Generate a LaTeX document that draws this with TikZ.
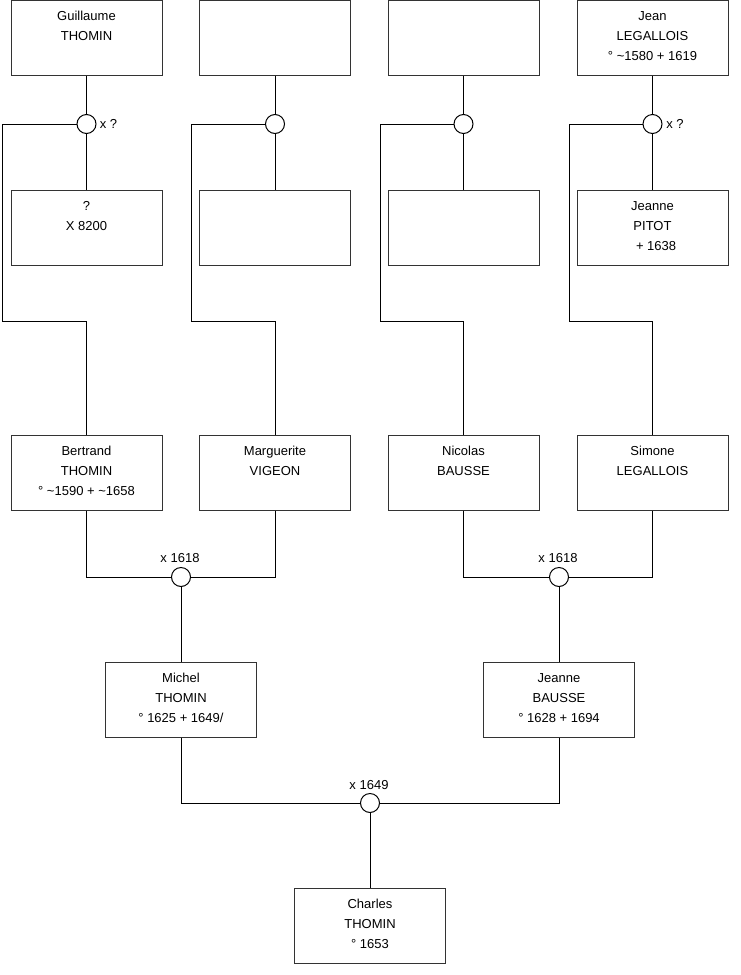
\documentclass[tikz,border=0pt]{standalone}
\usepackage{fontspec}
\setmainfont{Liberation Sans}
\newcommand{\fiche}[1]{\parbox[c][75pt][t]{151pt}{\centering\rule{0pt}{20.4pt}#1}}
\begin{document}
\begin{tikzpicture}[
  x=1pt, y=-1pt, line width=1pt,
  every node/.style={font=\fontsize{13}{20}\selectfont, align=center},
  personne/.style={draw=black!80, rectangle, inner sep=0pt, minimum width=151pt, minimum height=75pt},
  union/.style={draw, circle, fill=white, inner sep=0pt, minimum size=19pt}
]
\useasboundingbox (0,0) rectangle (740,975);
% generation 1
\node[personne] (g1) at (86.5,37.5) {\fiche{Guillaume\\THOMIN}};
\node[personne] (g2) at (275,37.5) {\fiche{}};
\node[personne] (g3) at (463.5,37.5) {\fiche{}};
\node[personne] (g4) at (652.5,37.5) {\fiche{Jean\\LEGALLOIS\\° \textasciitilde1580 + 1619}};
\node[union] (u1) at (86.5,124) {};
\node[union] (u2) at (275,124) {};
\node[union] (u3) at (463.5,124) {};
\node[union] (u4) at (652.5,124) {};
\node (xu1) at (108.5,124) {x ?};
\node (xu4) at (675,124) {x ?};
\node[personne] (e1) at (86.5,227.5) {\fiche{?\\X 8200}};
\node[personne] (e2) at (275,227.5) {\fiche{}};
\node[personne] (e3) at (463.5,227.5) {\fiche{}};
\node[personne] (e4) at (652.5,227.5) {\fiche{Jeanne\\PITOT\\\ \ + 1638}};
% generation 2
\node[personne] (p1) at (86.5,472.5) {\fiche{Bertrand\\THOMIN\\° \textasciitilde1590 + \textasciitilde1658}};
\node[personne] (p2) at (275,472.5) {\fiche{Marguerite\\VIGEON}};
\node[personne] (p3) at (463.5,472.5) {\fiche{Nicolas\\BAUSSE}};
\node[personne] (p4) at (652.5,472.5) {\fiche{Simone\\LEGALLOIS}};
\node[union] (m1) at (181,577) {};
\node[union] (m2) at (559,577) {};
\node (xm1) at (180,558) {x 1618};
\node (xm2) at (558,558) {x 1618};
% generation 3
\node[personne] (f1) at (181,699.5) {\fiche{Michel\\THOMIN\\° 1625 + 1649/}};
\node[personne] (f2) at (559,699.5) {\fiche{Jeanne\\BAUSSE\\° 1628 + 1694}};
\node[union] (m3) at (370,803) {};
\node (xm3) at (369,785) {x 1649};
\node[personne] (c1) at (370,925.5) {\fiche{Charles\\THOMIN\\° 1653}};
% liens
\draw (g1.south) -- (u1.north) (u1.south) -- (e1.north);
\draw (g2.south) -- (u2.north) (u2.south) -- (e2.north);
\draw (g3.south) -- (u3.north) (u3.south) -- (e3.north);
\draw (g4.south) -- (u4.north) (u4.south) -- (e4.north);
\draw (u1.west) -| (2,321) -| (p1.north);
\draw (u2.west) -| (191,321) -| (p2.north);
\draw (u3.west) -| (380,321) -| (p3.north);
\draw (u4.west) -| (569,321) -| (p4.north);
\draw (p1.south) |- (m1.west) (p2.south) |- (m1.east) (m1.south) -- (f1.north);
\draw (p3.south) |- (m2.west) (p4.south) |- (m2.east) (m2.south) -- (f2.north);
\draw (f1.south) |- (m3.west) (f2.south) |- (m3.east) (m3.south) -- (c1.north);
\end{tikzpicture}
\end{document}
